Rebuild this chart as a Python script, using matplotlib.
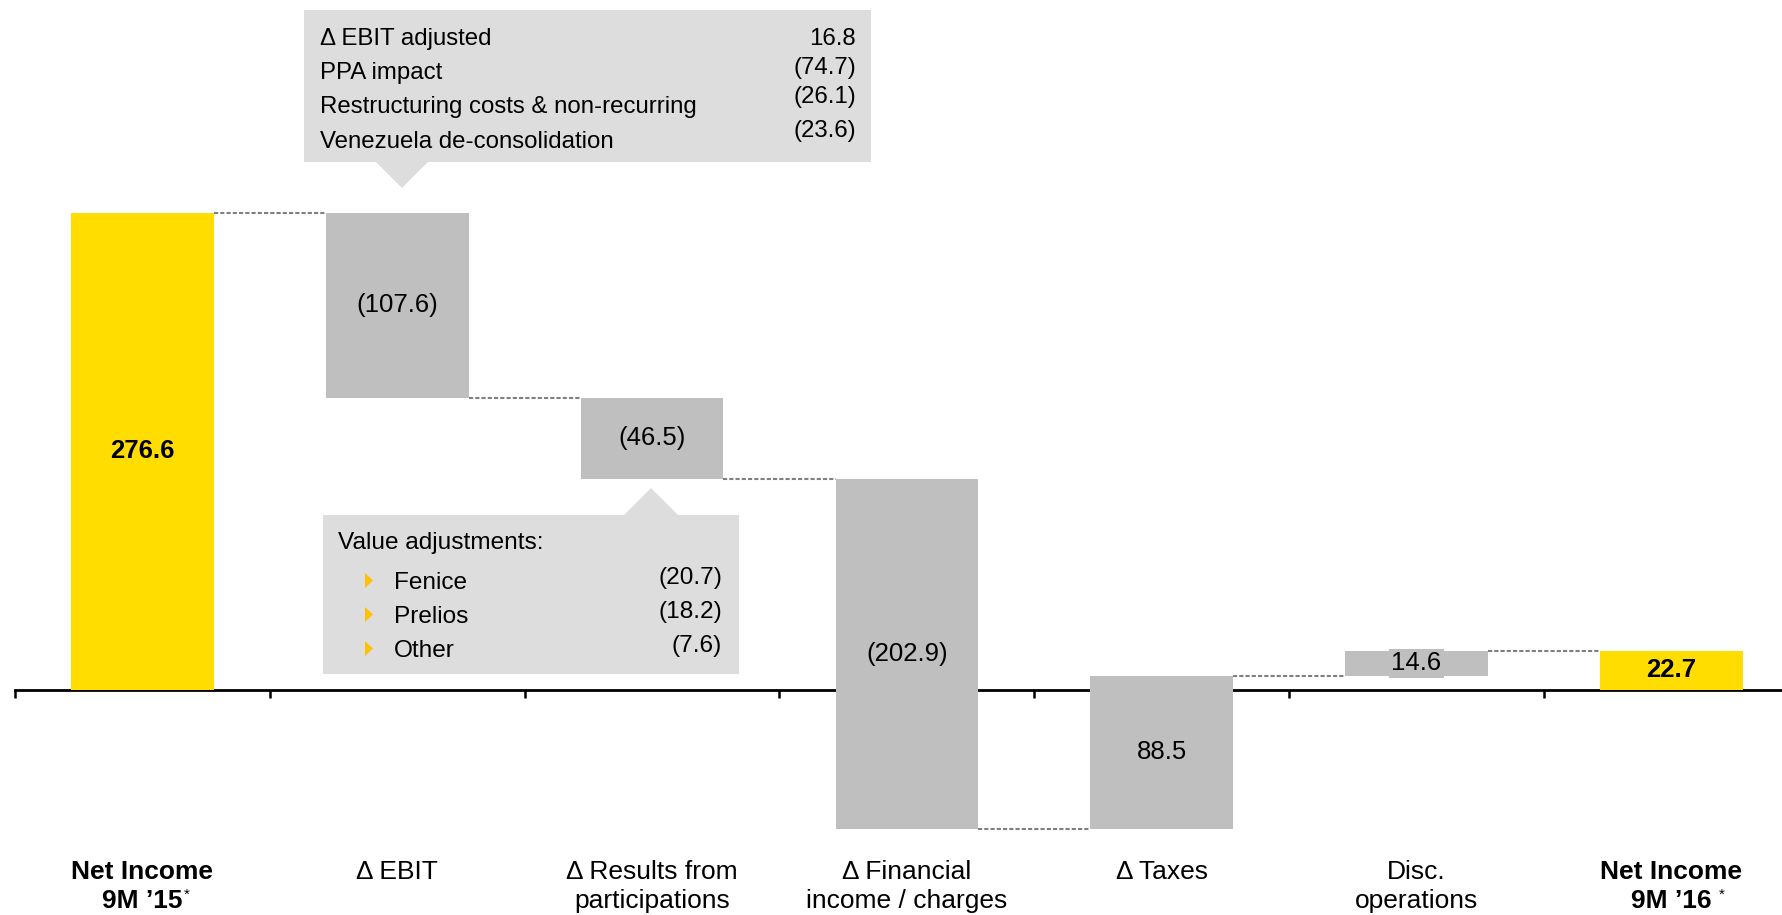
import matplotlib
matplotlib.use("Agg")
import matplotlib.pyplot as plt
from matplotlib.patches import Polygon

plt.rcParams['font.family'] = ['Liberation Sans', 'DejaVu Sans']

# waterfall data (EUR m)
categories = ["Net Income", "Δ EBIT", "Δ Results from", "Δ Financial", "Δ Taxes", "Disc.", "Net Income"]
categories_2nd = ["9M ’15", "", "participations", "income / charges", "", "operations", "9M ’16"]
values = [276.6, -107.6, -46.5, -202.9, 88.5, 14.6, 22.7]
is_total = [True, False, False, False, False, False, True]

# callout contents
ebit_items = ["Δ EBIT adjusted", "PPA impact", "Restructuring costs & non-recurring", "Venezuela de-consolidation"]
ebit_values = [16.8, -74.7, -26.1, -23.6]
part_title = "Value adjustments:"
part_items = ["Fenice", "Prelios", "Other"]
part_values = [-20.7, -18.2, -7.6]

YELLOW = "#FFDD00"
GREY = "#BFBFBF"
BOX = "#DDDDDD"
BULLET = "#FFC000"
W, H = 1783, 915


def fmt(v):
    return "(%.1f)" % abs(v) if v < 0 else "%.1f" % v


fig = plt.figure(figsize=(W / 100, H / 100), dpi=100)
ax = fig.add_axes([15 / W, 0, 1 - 15 / W, 1])
ax.set_xlim(-0.5, 6.438)
ax.set_ylim(-130.4, 399.8)


def fxy(px, py):
    # pixel position (from top-left) -> figure fraction
    return px / W, 1 - py / H


# bars
bar_w = 0.56
running = 0.0
levels = []
for i, v in enumerate(values):
    if is_total[i]:
        bottom, top = 0.0, v
        running = v
        color = YELLOW
    else:
        bottom = running
        top = running + v
        running = top
        color = GREY
    ax.bar(i, top - bottom, bottom=bottom, width=bar_w, color=color, zorder=2)
    levels.append(running)
    bold = is_total[i]
    bbox = None
    if i == 5:
        bbox = dict(boxstyle="square,pad=0.1", fc=GREY, ec="none")
    ax.text(i, (top + bottom) / 2, fmt(v), ha="center", va="center",
            fontsize=18.5, fontweight="bold" if bold else "normal",
            color="black", zorder=4, bbox=bbox)

# dashed connectors
for i in range(len(values) - 1):
    ax.plot([i + bar_w / 2, i + 1 - bar_w / 2], [levels[i], levels[i]], color="#808080",
            lw=1.5, dashes=(2, 1), zorder=3)

# axis line with ticks between categories
for s in ["top", "right", "left"]:
    ax.spines[s].set_visible(False)
ax.spines["bottom"].set_position(("data", 0))
ax.spines["bottom"].set_linewidth(2)
ax.spines["bottom"].set_zorder(1)
ax.set_axisbelow(True)
ax.set_yticks([])
ax.set_xticks([i - 0.5 for i in range(len(values))])
ax.set_xticklabels([])
ax.tick_params(axis="x", direction="out", length=6, width=1.8, color="black")

# category labels
for i, (l1, l2) in enumerate(zip(categories, categories_2nd)):
    bold = is_total[i]
    fw = "bold" if bold else "normal"
    ax.text(i, -109.5, l1, ha="center", va="baseline", fontsize=19, fontweight=fw)
    if l2:
        t = ax.text(i, -126.5, l2, ha="center", va="baseline", fontsize=19, fontweight=fw)
        if bold:
            gap = 1 if i == 0 else 5
            ax.annotate("*", xy=(1, 1), xycoords=t, xytext=(gap, 1), textcoords="offset points",
                        ha="left", va="top", fontsize=11)

# EBIT callout
top_box = [(304, 10), (871, 10), (871, 162), (428, 162), (402, 188), (376, 162), (304, 162)]
fig.add_artist(Polygon([fxy(*p) for p in top_box], closed=True, fc=BOX, ec="none",
                       transform=fig.transFigure, zorder=1))
label_base = [45, 79.5, 113.5, 147.5]
value_base = [45, 74, 103, 137]
for name, v, yl, yv in zip(ebit_items, ebit_values, label_base, value_base):
    fig.text(*fxy(320, yl), name, ha="left", va="baseline", fontsize=17.3)
    fig.text(*fxy(856, yv), fmt(v), ha="right", va="baseline", fontsize=17.3)

# participations callout
low_box = [(323, 515), (624, 515), (651, 488), (678, 515), (739, 515), (739, 674), (323, 674)]
fig.add_artist(Polygon([fxy(*p) for p in low_box], closed=True, fc=BOX, ec="none",
                       transform=fig.transFigure, zorder=1))
fig.text(*fxy(338, 549), part_title, ha="left", va="baseline", fontsize=17.6)
label_base = [589, 623, 657]
value_base = [584, 618, 652]
for name, v, yl, yv in zip(part_items, part_values, label_base, value_base):
    fig.text(*fxy(394, yl), name, ha="left", va="baseline", fontsize=17.6)
    fig.text(*fxy(722, yv), fmt(v), ha="right", va="baseline", fontsize=17.6)
    cy = yl - 8.5
    tri = [fxy(365, cy - 7.5), fxy(365, cy + 7.5), fxy(373, cy)]
    fig.add_artist(Polygon(tri, closed=True, fc=BULLET, ec="none",
                           transform=fig.transFigure, zorder=2))

fig.savefig("out.png", dpi=100)
